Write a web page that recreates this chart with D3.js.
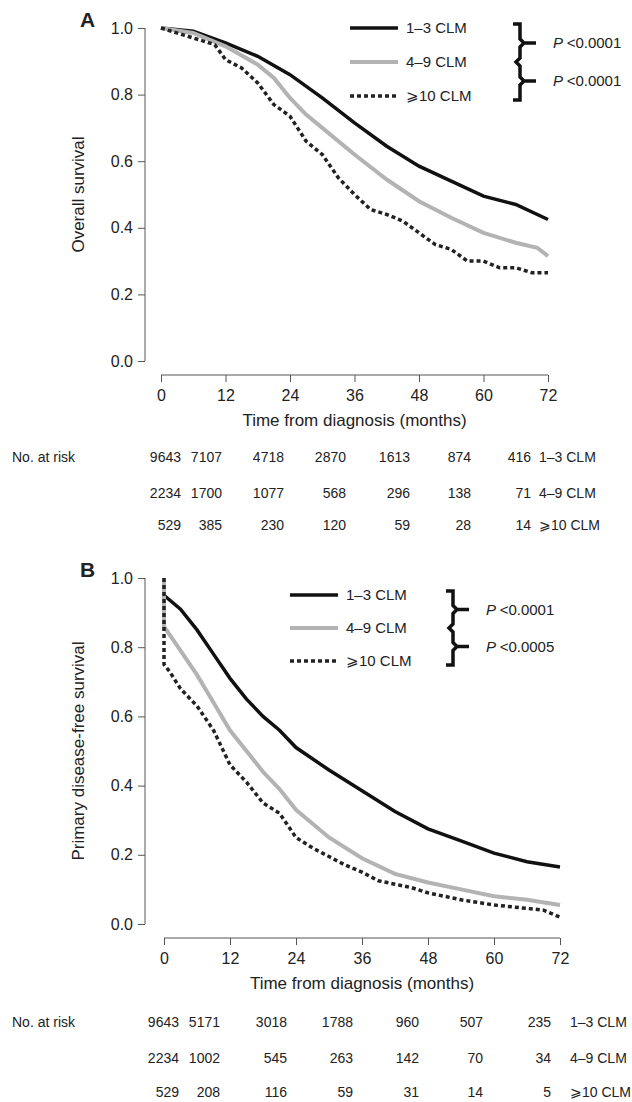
<!DOCTYPE html>
<html><head><meta charset="utf-8">
<script src="https://cdn.jsdelivr.net/npm/d3@7/dist/d3.min.js"></script>
<style>body{margin:0;background:#fff}text{font-family:"Liberation Sans",Arial,sans-serif;fill:#222}</style>
</head><body><svg id="c" width="632" height="1102"></svg>
<script>
const groups = ["1–3 CLM","4–9 CLM","⩾10 CLM"];
const xTicks = [0,12,24,36,48,60,72];
const yTicks = [0,0.2,0.4,0.6,0.8,1.0];
const osA13 = [[0,1],[6,0.99],[12,0.955],[18,0.915],[24,0.86],[30,0.79],[36,0.715],[42,0.645],[48,0.585],[54,0.54],[60,0.495],[66,0.47],[72,0.425]];
const osA49 = [[0,1],[6,0.985],[12,0.945],[18,0.89],[21,0.85],[24,0.79],[27,0.74],[30,0.70],[36,0.62],[42,0.545],[48,0.48],[54,0.43],[60,0.385],[66,0.355],[70,0.34],[72,0.315]];
const osA10 = [[0,1],[6,0.97],[10,0.95],[12,0.905],[15,0.88],[18,0.835],[21,0.77],[24,0.735],[27,0.66],[30,0.62],[33,0.55],[36,0.50],[39,0.455],[42,0.44],[45,0.42],[48,0.385],[51,0.35],[54,0.335],[57,0.3],[60,0.3],[63,0.28],[66,0.28],[69,0.265],[72,0.265]];
const dfB13 = [[0,1],[0,0.95],[3,0.91],[6,0.85],[9,0.78],[12,0.71],[15,0.65],[18,0.60],[21,0.56],[24,0.51],[30,0.445],[36,0.385],[42,0.325],[48,0.275],[54,0.24],[60,0.205],[66,0.18],[72,0.165]];
const dfB49 = [[0,1],[0,0.86],[3,0.79],[6,0.72],[9,0.64],[12,0.56],[15,0.5],[18,0.44],[21,0.39],[24,0.33],[30,0.25],[36,0.19],[42,0.145],[48,0.12],[54,0.10],[60,0.08],[66,0.07],[72,0.055]];
const dfB10 = [[0,1],[0,0.75],[1,0.73],[3,0.68],[6,0.63],[9,0.56],[12,0.46],[15,0.41],[18,0.35],[21,0.32],[24,0.25],[27,0.22],[30,0.195],[33,0.17],[36,0.15],[39,0.125],[42,0.115],[45,0.105],[48,0.09],[54,0.07],[60,0.055],[66,0.045],[69,0.04],[72,0.02]];
const riskA = [[9643,7107,4718,2870,1613,874,416],[2234,1700,1077,568,296,138,71],[529,385,230,120,59,28,14]];
const riskB = [[9643,5171,3018,1788,960,507,235],[2234,1002,545,263,142,70,34],[529,208,116,59,31,14,5]];
const pA = ["<0.0001","<0.0001"], pB = ["<0.0001","<0.0005"];

const svg = d3.select("#c");
const styles = [{c:"#111",w:3.5,d:null},{c:"#b3b3b3",w:4,d:null},{c:"#222",w:3.5,d:"4,3"}];

function panel(o){
  const g = svg.append("g");
  const x = d3.scaleLinear().domain([0,72]).range([o.x0,o.x1]);
  const y = d3.scaleLinear().domain([0,1]).range([o.yb,o.yt]);
  g.append("text").attr("x",o.lx).attr("y",o.yt-1).attr("font-size",21).attr("font-weight","bold").text(o.letter);
  const ya = g.append("g").attr("transform",`translate(145,0)`).call(d3.axisLeft(y).tickValues(yTicks).tickFormat(d3.format(".1f")).tickSize(7).tickPadding(5));
  const xa = g.append("g").attr("transform",`translate(0,${o.xa})`).call(d3.axisBottom(x).tickValues(xTicks).tickSize(7).tickPadding(8));
  [ya,xa].forEach(a=>{a.selectAll("text").attr("font-size",16).style("fill","#222");a.selectAll("line,path").attr("stroke","#555")});
  xa.select(".domain").attr("d",`M${o.x0},0H${o.x1}`);
  ya.select(".domain").attr("d",`M0,${o.yt}V${o.yb}`);
  g.append("text").attr("transform",`translate(84,${(o.yt+o.yb)/2}) rotate(-90)`).attr("text-anchor","middle").attr("font-size",17).text(o.ylab);
  g.append("text").attr("x",(o.x0+o.x1)/2).attr("y",o.xa+51).attr("text-anchor","middle").attr("font-size",17).text("Time from diagnosis (months)");
  const line = d3.line().x(d=>x(d[0])).y(d=>y(d[1]));
  o.series.forEach((s,i)=>{
    g.append("path").attr("d",line(s)).attr("fill","none").attr("stroke",styles[i].c).attr("stroke-width",styles[i].w).attr("stroke-dasharray",styles[i].d);
  });
  groups.forEach((n,i)=>{
    const ly=o.leg[1]+i*o.legDy;
    g.append("line").attr("x1",o.leg[0]).attr("x2",o.leg[0]+48).attr("y1",ly).attr("y2",ly).attr("stroke",styles[i].c).attr("stroke-width",styles[i].w).attr("stroke-dasharray",styles[i].d);
    g.append("text").attr("x",o.leg[0]+56).attr("y",ly+5).attr("font-size",15).text(n);
  });
  const bx=o.br[0], t=o.leg[1]-4, m=o.leg[1]+o.legDy, b=o.leg[1]+2*o.legDy+4;
  g.append("path").attr("d",`M${bx},${t}h7v${(m-t)/2-4}l4,4h12M${bx+11},${t+(m-t)/2}l-4,4v${(m-t)/2-8}l-4,4l4,4v${(b-m)/2-8}l4,4h12M${bx+11},${m+(b-m)/2}l-4,4v${(b-m)/2-4}h-7`).attr("fill","none").attr("stroke","#111").attr("stroke-width",3.5);
  o.p.forEach((p,i)=>{
    const py=i==0?t+(m-t)/2:m+(b-m)/2;
    const tx=g.append("text").attr("x",bx+40).attr("y",py+5).attr("font-size",15);
    tx.append("tspan").attr("font-style","italic").text("P ");
    tx.append("tspan").text(p);
  });
  g.append("text").attr("x",12).attr("y",o.ry[0]+5).attr("font-size",14).text("No. at risk");
  o.risk.forEach((r,i)=>{
    r.forEach((v,j)=>g.append("text").attr("x",o.rx[j]).attr("y",o.ry[i]+5).attr("text-anchor","end").attr("font-size",14).text(v));
    g.append("text").attr("x",o.rl).attr("y",o.ry[i]+5).attr("font-size",14).text(groups[i]);
  });
}
panel({letter:"A",lx:80,x0:161,x1:548,yt:28,yb:361,xa:375,ylab:"Overall survival",series:[osA13,osA49,osA10],
  leg:[350,28],legDy:34,br:[513],p:pA,risk:riskA,rx:[181,222,284,346,410,471,531],rl:539,ry:[457,493,525]});
panel({letter:"B",lx:80,x0:164,x1:560,yt:578,yb:924,xa:938,ylab:"Primary disease-free survival",series:[dfB13,dfB49,dfB10],
  leg:[290,595],legDy:33,br:[446],p:pB,risk:riskB,rx:[179,220,287,353,419,483,551],rl:570,ry:[1022,1058,1092]});
</script></body></html>
